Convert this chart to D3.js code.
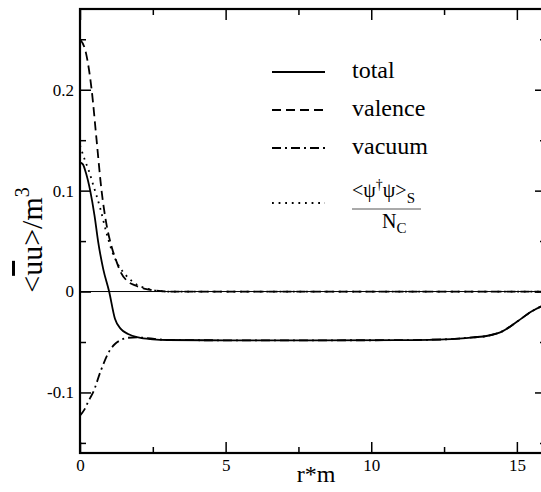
<!DOCTYPE html>
<meta charset="utf-8">
<style>
body { margin: 0; background: #fff; }
</style>
<svg id="chart" width="541" height="492"></svg>
<script src="https://d3js.org/d3.v7.min.js"></script>
<script>

// values
var rTotal = [0, 0.1, 0.2, 0.35, 0.5, 0.62, 0.8, 1.0, 1.2, 1.4, 1.65, 2.0, 2.5, 3, 5, 8, 11, 12, 12.5, 13, 13.5, 14, 14.5, 15, 15.5, 16];
var total  = [0.128, 0.126, 0.118, 0.1, 0.075, 0.05, 0.022, 0, -0.027, -0.037, -0.042, -0.0455, -0.0473, -0.048, -0.0483, -0.0483, -0.0482, -0.0478, -0.0474, -0.0466, -0.0454, -0.0438, -0.0395, -0.030, -0.0198, -0.0125];

var rValence = [0, 0.2, 0.4, 0.57, 0.74, 0.9, 1.09, 1.25, 1.4, 1.6, 1.9, 2.2, 2.6, 3, 16];
var valence  = [0.25, 0.237, 0.2, 0.15, 0.1, 0.068, 0.044, 0.03, 0.019, 0.011, 0.006, 0.003, 0.001, 0, 0];

var rVacuum = [0, 0.15, 0.3, 0.45, 0.72, 1.03, 1.2, 1.37, 1.65, 2.0, 2.5, 3, 5, 8, 11, 12, 12.5, 13, 13.5, 14, 14.5, 15, 15.5, 16];
var vacuum  = [-0.123, -0.117, -0.108, -0.1, -0.078, -0.058, -0.052, -0.0485, -0.0458, -0.0455, -0.0468, -0.048, -0.0483, -0.0483, -0.0482, -0.0478, -0.0474, -0.0466, -0.0454, -0.0438, -0.0395, -0.030, -0.0198, -0.0125];

var rDensity = [0, 0.17, 0.3, 0.45, 0.69, 0.92, 1.1, 1.3, 1.55, 1.8, 2.0, 2.3, 2.6, 3, 16];
var density  = [0.145, 0.13, 0.12, 0.106, 0.083, 0.057, 0.04, 0.027, 0.017, 0.01, 0.006, 0.003, 0.001, 0, 0];

var xTicks = [0, 5, 10, 15];
var xMinor = [2.5, 7.5, 12.5];
var yTicks = [-0.1, 0, 0.1, 0.2];
var yMinor = [-0.15, -0.05, 0.05, 0.15, 0.25];
var legendLabels = ["total", "valence", "vacuum"];

var serif = "'Liberation Serif', 'DejaVu Serif', serif";

var svg = d3.select("svg#chart"),
	plotL = 80, plotR = 546, plotT = 9, plotB = 453;

var x = d3.scaleLinear().domain([0, 16]).range([plotL, plotR]);
var y = d3.scaleLinear().domain([-0.16, 0.28]).range([plotB, plotT]);

var dashes = ["none", "9,5", "9,4,2,4", "1.8,4.8"];

var line = d3.line()
	.x(function(d) { return x(d[0]); })
	.y(function(d) { return y(d[1]); })
	.curve(d3.curveMonotoneX);

// zero line
svg.append("line")
	.attr("x1", x(0)).attr("x2", x(16))
	.attr("y1", y(0)).attr("y2", y(0))
	.attr("stroke", "#000").attr("stroke-width", 1);

var series = [d3.zip(rTotal, total), d3.zip(rValence, valence), d3.zip(rVacuum, vacuum), d3.zip(rDensity, density)];

svg.append("g").selectAll("path")
	.data(series)
	.enter().append("path")
		.attr("d", line)
		.attr("fill", "none")
		.attr("stroke", "#000")
		.attr("stroke-width", 1.8)
		.attr("stroke-dasharray", function(d, i) { return dashes[i]; });

// frame
svg.append("rect")
	.attr("x", plotL).attr("y", plotT)
	.attr("width", plotR - plotL).attr("height", plotB - plotT)
	.attr("fill", "none").attr("stroke", "#000").attr("stroke-width", 2.2);

function addAxis(gen, tx, ty) {
	var g = svg.append("g")
		.attr("transform", "translate(" + tx + "," + ty + ")")
		.attr("font-family", serif)
		.call(gen);
	g.attr("font-family", serif).attr("font-size", 17);
	g.select(".domain").remove();
	g.selectAll("line").attr("stroke-width", 1.5);
	g.selectAll("text").attr("fill", "#000").attr("font-family", serif);
	return g;
}

var yFmt = function(d) { return d === 0 ? "0" : String(d); };

addAxis(d3.axisBottom(x).tickValues(xTicks).tickSize(-11).tickPadding(6).tickFormat(d3.format("d")), 0, plotB);
addAxis(d3.axisBottom(x).tickValues(xMinor).tickSize(-6).tickFormat(""), 0, plotB);
addAxis(d3.axisTop(x).tickValues(xTicks).tickSize(-11).tickFormat(""), 0, plotT);
addAxis(d3.axisTop(x).tickValues(xMinor).tickSize(-6).tickFormat(""), 0, plotT);
addAxis(d3.axisLeft(y).tickValues(yTicks).tickSize(-11).tickPadding(6).tickFormat(yFmt), plotL, 0);
addAxis(d3.axisLeft(y).tickValues(yMinor).tickSize(-6).tickFormat(""), plotL, 0);
addAxis(d3.axisRight(y).tickValues(yTicks).tickSize(-11).tickFormat(""), plotR, 0);
addAxis(d3.axisRight(y).tickValues(yMinor).tickSize(-6).tickFormat(""), plotR, 0);

// axis titles
svg.append("text")
	.attr("x", 316).attr("y", 482)
	.attr("text-anchor", "middle")
	.attr("font-family", serif).attr("font-size", 24)
	.text("r*m");

var yl = svg.append("text")
	.attr("transform", "translate(42,240) rotate(-90)")
	.attr("text-anchor", "middle")
	.attr("font-family", serif).attr("font-size", 30);
yl.append("tspan").text("<");
yl.append("tspan").style("text-decoration", "overline").text("u");
yl.append("tspan").text("u>/m");
yl.append("tspan").attr("dy", -13).attr("font-size", 20).text("3");

// legend
var legend = svg.append("g").attr("font-family", serif);
var rows = legendLabels.map(function(d, i) { return { label: d, i: i, y: 72 + i * 38 }; });
rows.push({ label: null, i: 3, y: 203 });

legend.selectAll("line")
	.data(rows)
	.enter().append("line")
		.attr("x1", 272).attr("x2", 325)
		.attr("y1", function(d) { return d.y; })
		.attr("y2", function(d) { return d.y; })
		.attr("stroke", "#000").attr("stroke-width", 1.8)
		.attr("stroke-dasharray", function(d) { return dashes[d.i]; });

legend.selectAll("text.lab")
	.data(rows.filter(function(d) { return d.label; }))
	.enter().append("text")
		.attr("class", "lab")
		.attr("x", 352)
		.attr("y", function(d) { return d.y + 6; })
		.attr("font-size", 24)
		.text(function(d) { return d.label; });

// fraction <psi+ psi>_S / N_C
var num = legend.append("text")
	.attr("x", 352).attr("y", 197)
	.attr("font-size", 20);
num.append("tspan").text("<ψ");
num.append("tspan").attr("dy", -8).attr("font-size", 14).text("†");
num.append("tspan").attr("dy", 8).text("ψ>");
num.append("tspan").attr("dy", 6).attr("font-size", 15).text("S");

legend.append("line")
	.attr("x1", 352).attr("x2", 421)
	.attr("y1", 209).attr("y2", 209)
	.attr("stroke", "#555").attr("stroke-width", 1);

var den = legend.append("text")
	.attr("x", 382).attr("y", 228)
	.attr("font-size", 20);
den.append("tspan").text("N");
den.append("tspan").attr("dy", 5).attr("font-size", 15).text("C");

</script>
